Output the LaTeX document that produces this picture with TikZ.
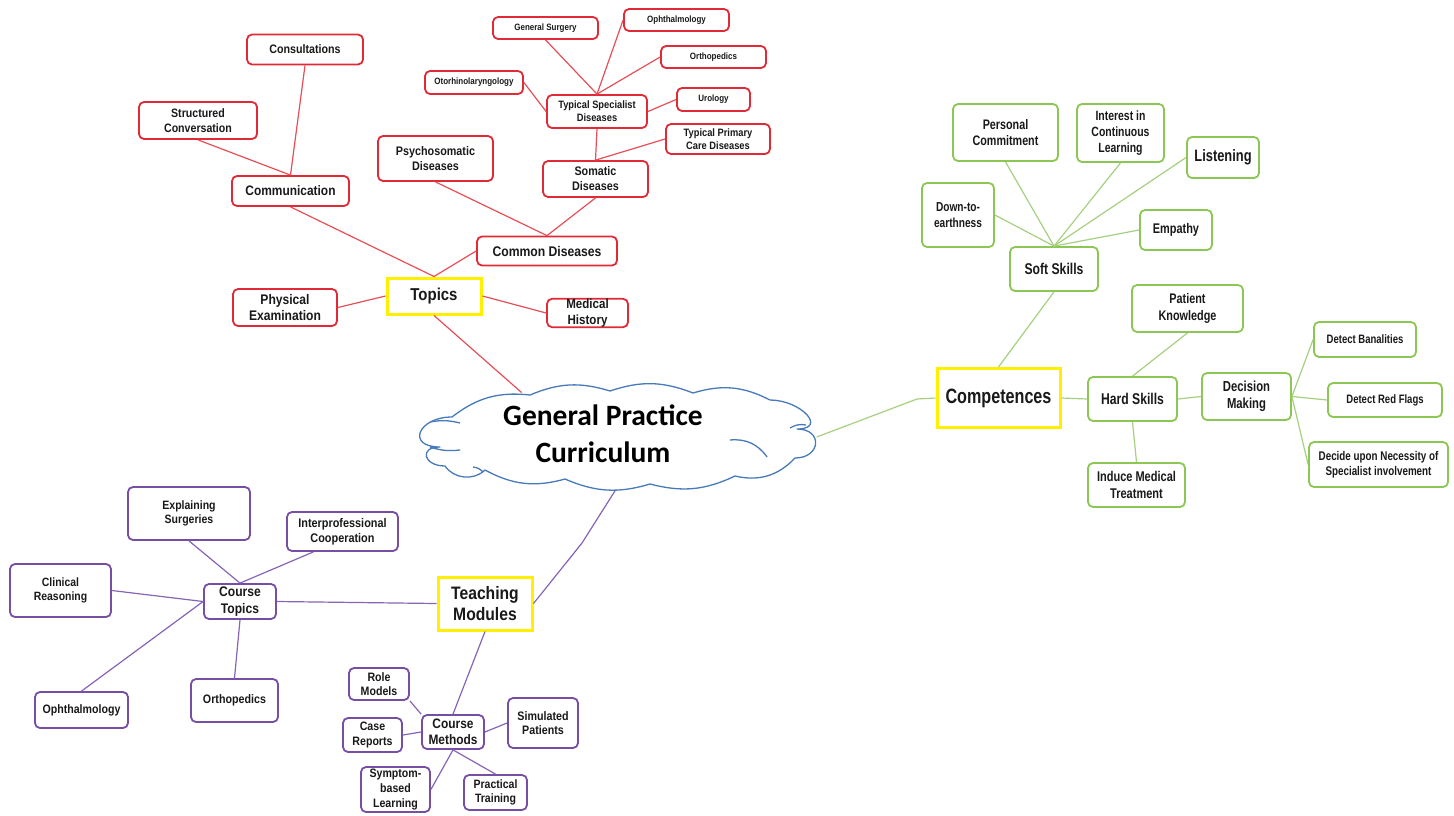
\documentclass[tikz,border=0pt]{standalone}
\usepackage{fontspec}
\setmainfont{Liberation Sans}[FakeStretch=0.87]
\newfontfamily\narrowfont{Liberation Sans}[FakeStretch=0.78]
\newfontfamily\cloudfont{Carlito}
\usetikzlibrary{shapes.geometric}
\definecolor{redc}{RGB}{224,42,54}
\definecolor{redl}{RGB}{230,78,88}
\definecolor{greenc}{RGB}{140,198,84}
\definecolor{greenl}{RGB}{166,208,128}
\definecolor{purc}{RGB}{118,78,164}
\definecolor{purl}{RGB}{134,100,182}
\definecolor{yel}{RGB}{255,240,0}
\definecolor{cloudc}{RGB}{72,122,186}
\definecolor{txt}{RGB}{25,25,25}
\newcommand\fsz[1]{\pgfmathsetmacro\fszbs{1.2*#1}\fontsize{#1}{\fszbs}\selectfont\bfseries}
\newcommand\gsz[1]{\pgfmathsetmacro\fszbs{1.2*#1}\narrowfont\fontsize{#1}{\fszbs}\selectfont\bfseries}
\tikzset{
  sz/.style 2 args={minimum width=#1pt, minimum height=#2pt},
  box/.style={rounded corners=5pt, fill=white, align=center, inner sep=0pt, text=txt},
  rbox/.style={box, draw=redc, line width=1.8pt, font=\fsz{#1}},
  gbox/.style={box, draw=greenc, line width=1.8pt, font=\gsz{#1}},
  pbox/.style={box, draw=purc, line width=1.8pt, font=\fsz{#1}},
  ybox/.style={box, rounded corners=0pt, draw=yel, line width=3pt},
  rl/.style={draw=redl, line width=1.2pt},
  gl/.style={draw=greenl, line width=1.2pt},
  pl/.style={draw=purl, line width=1.2pt},
  cloudline/.style={draw=cloudc, line width=1.3pt, line join=round},
}
\begin{document}
\begin{tikzpicture}[x=1pt,y=-1pt]
\useasboundingbox (0,0) rectangle (1454,815);
% central topic: anchor shape (outline drawn below)
\node[ellipse, minimum width=399pt, minimum height=101pt, inner sep=0pt] (gp) at (617,437) {};

% ---------- red: Topics ----------
\node[rbox=12.3, sz={116}{30}] (cons) at (305,49.5) {Consultations};
\node[rbox=12.2, sz={118}{37}] (struct) at (198,120.5) {Structured\\Conversation};
\node[rbox=13.7, sz={117}{30}] (comm) at (290.5,191) {Communication};
\node[rbox=12.4, sz={115}{45}] (psy) at (435.5,158.5) {Psychosomatic\\Diseases};
\node[ybox, font=\fsz{17.2}, sz={94}{36}] (topics) at (434,296) {Topics};
\node[rbox=13.9, sz={104}{37}] (phys) at (285,307.5) {Physical\\Examination};
\node[rbox=14, sz={140}{29}] (common) at (547,251) {Common Diseases};
\node[rbox=13.3, sz={81}{28}] (medh) at (587.5,313) {Medical\\History};
\node[rbox=12.4, sz={105}{36}] (som) at (595.5,179) {Somatic\\Diseases};
\node[rbox=10.7, sz={100}{33}] (tsd) at (597,111.5) {Typical Specialist\\Diseases};
\node[rbox=9.2, sz={98}{23}] (oto) at (474,82.5) {Otorhinolaryngology};
\node[rbox=9.2, sz={105}{22}] (gsurg) at (545.5,28) {General Surgery};
\node[rbox=9.2, sz={105}{22}] (ophr) at (676.5,20) {Ophthalmology};
\node[rbox=9.2, sz={105}{22}] (orthr) at (713.5,57) {Orthopedics};
\node[rbox=9.2, sz={73}{23}] (uro) at (713.5,99.5) {Urology};
\node[rbox=10.7, sz={104}{30}] (tpc) at (718,139) {Typical Primary\\Care Diseases};

\draw[rl] (cons.south) -- (comm.north);
\draw[rl] (struct.south) -- (comm.north);
\draw[rl] (comm.south) -- (topics.north);
\draw[rl] (topics.north) -- (common.west);
\draw[rl] (psy.south) -- (common.north);
\draw[rl] (som.south) -- (common.north);
\draw[rl] (tsd.south) -- (som.north);
\draw[rl] (tpc.west) -- (som.north);
\draw[rl] (tsd.north) -- (gsurg.south);
\draw[rl] (tsd.north) -- (ophr.west);
\draw[rl] (tsd.north) -- (orthr.west);
\draw[rl] (tsd.east) -- (uro.west);
\draw[rl] (oto.east) -- (tsd.west);
\draw[rl] (topics.east) -- (medh.west);
\draw[rl] (topics.west) -- (phys.east);
\draw[rl] (topics.south) -- (gp.155);

% ---------- green: Competences ----------
\node[gbox=13.8, sz={105}{57}] (pc) at (1005.5,132.5) {Personal\\Commitment};
\node[gbox=13.4, sz={87}{58}] (icl) at (1120.5,133) {Interest in\\Continuous\\Learning};
\node[gbox=16.5, sz={72}{41}] (lis) at (1223,157.5) {Listening};
\node[gbox=13, sz={72}{64}] (dte) at (958,215) {Down-to-\\earthness};
\node[gbox=14, sz={72}{40}] (emp) at (1176,230) {Empathy};
\node[gbox=15.6, sz={88}{44}] (soft) at (1054,269) {Soft Skills};
\node[ybox, font=\gsz{20.7}, sz={123}{59}] (comp) at (998.5,398) {Competences};
\node[gbox=15.6, sz={89}{44}] (hard) at (1132.5,399) {Hard Skills};
\node[gbox=14.5, sz={89}{47}] (dm) at (1246.5,396.5) {Decision\\Making};
\node[gbox=13.9, sz={111}{47}] (pk) at (1187.5,308.5) {Patient\\Knowledge};
\node[gbox=12.2, sz={102}{35}] (db) at (1365,339.5) {Detect Banalities};
\node[gbox=12.2, sz={114}{34}] (drf) at (1385,400) {Detect Red Flags};
\node[gbox=12.6, sz={139}{45}] (dun) at (1378.5,464.5) {Decide upon Necessity of\\Specialist involvement};
\node[gbox=14.1, sz={97}{44}] (imt) at (1136.5,485) {Induce Medical\\Treatment};

\draw[gl] (soft.north) -- (pc.south);
\draw[gl] (soft.north) -- (icl.south);
\draw[gl] (soft.north) -- (lis.west);
\draw[gl] (soft.north) -- (emp.west);
\draw[gl] (soft.north) -- (dte.east);
\draw[gl] (soft.south) -- (comp.north);
\draw[gl] (comp.east) -- (hard.west);
\draw[gl] (hard.north) -- (pk.south);
\draw[gl] (hard.east) -- (dm.west);
\draw[gl] (hard.south) -- (imt.north);
\draw[gl] (dm.east) -- (db.west);
\draw[gl] (dm.east) -- (drf.west);
\draw[gl] (dm.east) -- (dun.west);
\coordinate (gbend) at (917,399);
\draw[gl] (gp.east) -- (gbend) -- (comp.west);

% ---------- purple: Teaching Modules ----------
\node[pbox=12.1, sz={122}{53}] (es) at (189,513.5) {Explaining\\Surgeries};
\node[pbox=12.5, sz={111}{39}] (ic) at (342.5,531.5) {Interprofessional\\Cooperation};
\node[pbox=12, sz={101}{53}] (cr) at (60.5,590.5) {Clinical\\Reasoning};
\node[pbox=13.9, sz={72}{35}] (ct) at (240,601.5) {Course\\Topics};
\node[pbox=12.2, sz={93}{36}] (oph) at (81.5,710) {Ophthalmology};
\node[pbox=12.3, sz={87}{43}] (orth) at (234.5,700.5) {Orthopedics};
\node[ybox, font=\fsz{18}, sz={94}{53}] (tm) at (485,603.5) {Teaching\\Modules};
\node[pbox=12.2, sz={60}{32}] (rm) at (379,684) {Role\\Models};
\node[pbox=12.2, sz={59}{34}] (cre) at (372.5,735) {Case\\Reports};
\node[pbox=13.7, sz={62}{34}] (cm) at (453,732) {Course\\Methods};
\node[pbox=12.3, sz={70}{50}] (sp) at (543,723) {Simulated\\Patients};
\node[pbox=12.2, sz={69}{45}] (sbl) at (395.5,789.5) {Symptom-\\based\\Learning};
\node[pbox=12.1, sz={63}{35}] (pt) at (495.5,792.5) {Practical\\Training};

\draw[pl] (ct.east) -- (tm.west);
\coordinate (pbend) at (582,543);
\draw[pl] (tm.east) -- (pbend) -- (gp.south);
\draw[pl] (tm.south) -- (cm.north);
\draw[pl] (rm.south east) -- (cm.north west);
\draw[pl] (cre.east) -- (cm.west);
\draw[pl] (sp.west) -- (cm.east);
\draw[pl] (sbl.east) -- (cm.south);
\draw[pl] (pt.north) -- (cm.south);
\draw[pl] (es.south) -- (ct.north);
\draw[pl] (ic.215) -- (ct.north);
\draw[pl] (cr.east) -- (ct.west);
\draw[pl] (oph.north) -- (ct.west);
\draw[pl] (orth.north) -- (ct.south);

% ---------- cloud outline ----------
\draw[cloudline, fill=white]
  (452,417) to[bend left=22] (530,395)
  to[bend left=20] (610,391)
  to[bend left=20] (693,393)
  to[bend left=22] (770,400)
  to[out=0,in=0,looseness=2] (797,429)
  to[out=0,in=0,looseness=2.3] (795,458)
  to[bend left=30] (735,476)
  to[bend left=20] (650,484)
  to[bend left=20] (565,479)
  to[bend left=22] (485,470)
  to[bend left=50] (445,466)
  to[out=180,in=180,looseness=2.8] (440,447)
  to[out=180,in=180,looseness=2.7] (452,417);
\draw[cloudline] (430,422) to[bend left=12] (460,423);
\draw[cloudline] (430,447) to[bend right=12] (460,450);
\draw[cloudline] (473,467) to[bend left=20] (483,472);
\draw[cloudline] (730,440) to[bend left=30] (767,457);
\draw[cloudline] (790,428) to[bend left=20] (806,425);
\node[font=\cloudfont\fontsize{29.5}{37}\selectfont\bfseries, align=center, inner sep=0pt] (gptext) at (603,434) {General Practice\\Curriculum};
\end{tikzpicture}
\end{document}
